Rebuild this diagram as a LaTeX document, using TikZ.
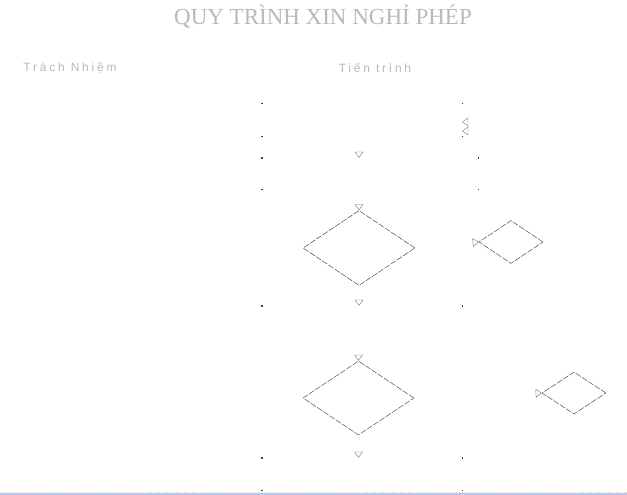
\documentclass[tikz,border=0pt]{standalone}
\usepackage{fontspec}
\setmainfont{Liberation Serif}
\newfontfamily\hdfont[LetterSpace=23]{Liberation Sans}
\usetikzlibrary{shapes.geometric,arrows.meta}
\definecolor{edgeblue}{RGB}{175,200,250}
\definecolor{edgepink}{RGB}{250,200,200}
\tikzset{
  boxst/.style={rectangle,draw=none,inner sep=0pt},
  dia/.style={diamond,draw=black!70,line width=0.5pt,dash pattern=on 6pt off 1.5pt,inner sep=0pt},
  arr/.style={draw=white,line width=0.4pt,-{Triangle[open,length=6pt,width=8.5pt,color=black!55]}},
  dotc/.style={fill=black!75},
  ttl/.style={font=\fontsize{23}{25}\selectfont,text=gray!55,inner sep=0pt},
  hdr/.style={font=\hdfont\fontsize{12}{14}\selectfont,text=gray!55,inner sep=0pt}
}
\begin{document}
\begin{tikzpicture}[x=1pt,y=-1pt]
\useasboundingbox (0,0) rectangle (627,495);
% title and headers
\node[ttl] (title) at (323,16) {QUY TRÌNH XIN NGHỈ PHÉP};
\node[hdr] (h1) at (70,68) {Trách Nhiệm};
\node[hdr] (h2) at (375,68) {Tiến trình};
% boxes (borders invisible, only corners show)
\node[boxst,minimum width=200pt,minimum height=32pt] (bA) at (362,120) {};
\node[boxst,minimum width=216pt,minimum height=31pt] (bB) at (370,173.5) {};
\node[boxst,minimum width=200pt,minimum height=32pt] (bC) at (362,322) {};
\node[boxst,minimum width=200pt,minimum height=32pt] (bD) at (362,474) {};
\foreach \n in {bA,bB,bD}{
  \foreach \a in {north west,north east,south west,south east}{
    \fill[dotc] (\n.\a) ++(-0.7,-0.7) rectangle ++(1.4,1.4);
  }
}
\foreach \a in {north west,north east}{
  \fill[dotc] (bC.\a) ++(-0.7,-0.7) rectangle ++(1.4,1.4);
}
% decisions
\node[dia,minimum width=112pt,minimum height=75pt] (d1) at (359,248) {};
\node[dia,minimum width=64pt,minimum height=43pt] (d2) at (511,242) {};
\node[dia,minimum width=111pt,minimum height=74pt] (d3) at (358.5,398) {};
\node[dia,minimum width=64pt,minimum height=42pt] (d4) at (574,393) {};
% connectors
\draw[arr] (bA.south -| d1.north) -- (bB.north -| d1.north);
\draw[arr] (bB.south -| d1.north) -- (d1.north);
\draw[arr] (d1.south) -- (bC.north -| d1.south);
\draw[arr] (bC.south -| d3.north) -- (d3.north);
\draw[arr] (d3.south) -- (bD.north -| d3.south);
\draw[arr] (d1.east) -- (d2.west);
\draw[arr] (d3.east) -- (d4.west);
\draw[arr] (d2.north) |- ([yshift=-2pt]bA.east);
\draw[arr] (d4.north) |- ([yshift=-11pt]bA.east);
% bottom edge
\draw[edgepink,dotted,line width=0.7pt] (0,492) -- (627,492);
\draw[edgeblue,line width=1.6pt] (0,494.2) -- (627,494.2);
\end{tikzpicture}
\end{document}
